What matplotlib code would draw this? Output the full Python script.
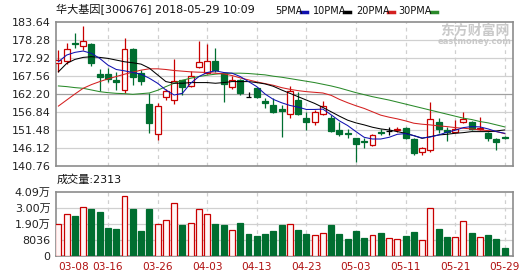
import numpy as np
import matplotlib
matplotlib.use('Agg')
import matplotlib.pyplot as plt

plt.rcParams['font.family'] = ['DejaVu Sans', 'Noto Sans CJK SC']

# trading days shown
dates = ['03-08', '03-09', '03-12', '03-13', '03-14', '03-15', '03-16', '03-19', '03-20', '03-21',
         '03-22', '03-23', '03-26', '03-27', '03-28', '03-29', '03-30', '04-02', '04-03', '04-04',
         '04-09', '04-10', '04-11', '04-12', '04-13', '04-16', '04-17', '04-18', '04-19', '04-20',
         '04-23', '04-24', '04-25', '04-26', '04-27', '05-02', '05-03', '05-04', '05-07', '05-08',
         '05-09', '05-10', '05-11', '05-14', '05-15', '05-16', '05-17', '05-18', '05-21', '05-22',
         '05-23', '05-24', '05-25', '05-28', '05-29']
tick_dates = ['03-08', '03-16', '03-26', '04-03', '04-13', '04-23', '05-03', '05-11', '05-21', '05-29']

# daily candles
opens = [171.3, 172.1, 177.5, 176.5, 177.1, 168.2, 168.2, 166.4, 163.4, 175.5,
         168.5, 159.2, 150.2, 161.2, 160.4, 166.4, 164.6, 170.2, 168.5, 172.0,
         168.4, 164.2, 166.4, 161.4, 164.1, 160.1, 158.9, 157.6, 156.2, 160.4,
         155.0, 154.0, 156.2, 155.1, 151.5, 150.5, 149.2, 148.1, 147.0, 150.9,
         151.2, 151.6, 152.0, 148.8, 144.8, 145.5, 153.8, 151.5, 151.0, 153.8,
         153.8, 151.8, 150.5, 148.8, 149.4]
closes = [172.3, 175.5, 177.0, 178.0, 171.3, 167.2, 166.6, 165.9, 175.5, 167.4,
          166.2, 153.7, 158.7, 163.2, 166.2, 164.4, 167.7, 171.7, 172.0, 169.4,
          165.1, 166.4, 162.4, 161.4, 161.4, 159.4, 156.8, 157.2, 163.1, 156.2,
          154.0, 156.9, 158.6, 151.2, 150.2, 150.2, 147.2, 147.9, 150.0, 150.7,
          151.2, 151.8, 149.0, 144.5, 146.0, 154.75, 151.8, 150.8, 151.8, 154.75,
          151.8, 152.2, 149.0, 148.0, 149.0]
highs = [175.3, 177.3, 180.3, 182.45, 177.5, 169.6, 169.9, 168.8, 179.0, 175.8,
         169.4, 162.6, 159.4, 163.6, 172.5, 166.4, 169.1, 178.1, 177.1, 175.8,
         168.4, 167.6, 166.6, 162.9, 164.4, 160.9, 160.9, 158.9, 164.7, 162.7,
         156.9, 157.4, 160.1, 155.9, 154.0, 151.8, 149.2, 149.2, 150.2, 151.7,
         152.5, 152.5, 152.5, 149.0, 146.5, 159.9, 155.0, 152.5, 154.5, 156.9,
         154.2, 155.4, 151.0, 149.2, 149.8]
lows = [168.8, 171.1, 175.8, 175.3, 170.6, 163.2, 165.9, 163.4, 162.4, 164.9,
        164.9, 150.5, 148.5, 160.4, 159.2, 161.9, 164.4, 169.9, 168.2, 168.8,
        159.9, 163.6, 161.9, 161.4, 161.1, 157.9, 156.5, 149.5, 155.1, 155.9,
        151.5, 153.0, 155.9, 151.0, 149.8, 149.2, 142.0, 146.2, 146.8, 150.0,
        150.0, 150.8, 148.8, 144.0, 144.0, 144.8, 150.5, 148.2, 151.0, 153.5,
        151.5, 151.5, 148.2, 145.5, 148.8]
volumes = [20350, 26700, 25440, 30970, 29890, 27980, 17810, 17170, 38160, 29890,
           15900, 29890, 20350, 22900, 33500, 19900, 20990, 29890, 26700, 20560,
           19900, 16540, 20990, 14200, 12930, 14200, 16100, 19900, 20350, 16540,
           14200, 13360, 14420, 19720, 13990, 10810, 15900, 11450, 13360, 14630,
           11240, 10600, 12720, 15260, 10180, 30330, 17170, 12080, 12080, 22260,
           14630, 12080, 13360, 10810, 5090]

# moving averages as drawn
ma5 = [171.8, 173.8, 174.6, 175.0, 174.3, 172.8, 170.8, 169.5, 169.1, 168.6,
       168.1, 166.9, 165.4, 163.4, 161.9, 162.4, 165.4, 167.4, 168.6, 169.1,
       168.6, 168.4, 167.4, 165.9, 164.4, 162.2, 160.6, 159.6, 158.8, 158.3,
       157.6, 157.6, 157.7, 156.0, 154.2, 152.8, 151.0, 149.3, 148.8, 148.8,
       149.3, 150.2, 150.4, 149.8, 149.1, 149.4, 150.0, 150.8, 151.4, 152.2,
       152.5, 152.4, 151.8, 151.0, 150.5]
ma10 = [168.8, 171.3, 172.5, 173.1, 173.3, 173.1, 172.8, 172.3, 171.8, 171.5,
        171.1, 169.9, 167.9, 165.9, 165.4, 165.4, 165.6, 165.6, 165.6, 165.4,
        165.6, 165.9, 165.9, 165.9, 165.6, 165.2, 164.5, 163.4, 162.4, 161.4,
        160.4, 159.4, 158.2, 156.9, 155.6, 154.4, 153.6, 153.0, 152.3, 151.8,
        151.5, 151.0, 150.5, 149.8, 149.0, 149.5, 150.0, 150.2, 150.5, 150.7,
        151.0, 151.0, 151.0, 151.2, 151.5]
ma20 = [158.6, 160.4, 162.2, 163.9, 165.0, 165.9, 166.7, 167.4, 168.1, 168.7,
        169.3, 169.7, 169.7, 169.5, 169.2, 169.0, 168.8, 168.7, 168.6, 168.4,
        168.2, 167.7, 167.0, 166.4, 165.8, 165.3, 164.8, 164.1, 163.6, 163.2,
        162.9, 162.7, 162.5, 161.8, 160.6, 159.6, 158.7, 157.9, 156.9, 155.9,
        155.3, 154.8, 154.2, 153.5, 153.2, 153.0, 152.7, 152.5, 152.2, 152.0,
        151.8, 151.5, 151.3, 151.0, 150.4]
ma30 = [164.6, 164.4, 164.1, 163.9, 163.4, 162.9, 162.6, 162.4, 162.3, 162.1,
        162.3, 162.5, 163.3, 164.4, 165.4, 166.3, 166.9, 167.4, 167.8, 168.1,
        168.3, 168.4, 168.4, 168.3, 168.1, 167.9, 167.5, 167.2, 166.8, 166.4,
        166.0, 165.6, 165.1, 164.6, 164.0, 163.3, 162.6, 162.0, 161.4, 160.9,
        160.4, 159.8, 159.2, 158.6, 158.0, 157.4, 156.8, 156.2, 155.6, 155.0,
        154.6, 154.0, 153.6, 153.0, 152.4]

price_ticks = [183.64, 178.28, 172.92, 167.56, 162.20, 156.84, 151.48, 146.12, 140.76]
vol_max = 40900
vol_tick_labels = ['0', '8036', '1.90万', '3.00万', '4.09万']

RED = '#c80000'
GREEN = '#006e30'
GRID = '#d0d0d0'
BORDER = '#8c8c8c'

x = np.arange(len(dates))
o = np.array(opens)
c = np.array(closes)
prev = np.concatenate([[o[0]], c[:-1]])
up = (c > o) | ((c == o) & (c >= prev))

fig = plt.figure(figsize=(5.3, 2.76), dpi=100)
ax = fig.add_axes([55.5 / 530, 110 / 276, 457.5 / 530, 144 / 276])
axv = fig.add_axes([55.5 / 530, 20 / 276, 457.5 / 530, 64.3 / 276])

tick_idx = [dates.index(d) for d in tick_dates]

for a in (ax, axv):
    a.set_xlim(-0.35, 55.0)
    for s in a.spines.values():
        s.set_color(BORDER)
        s.set_linewidth(1.2)
    for t in tick_idx[1:]:
        a.axvline(t, color=GRID, lw=0.9, ls=(0, (3, 3)), zorder=0)
    a.tick_params(length=0, labelsize=8, colors='#222222')

# price panel
ax.set_ylim(price_ticks[-1], price_ticks[0])
ax.set_yticks(price_ticks)
ax.set_yticklabels(['%.2f' % v for v in price_ticks])
for v in price_ticks[1:-1]:
    ax.axhline(v, color='#a0a0a0' if v == 162.20 else GRID, lw=0.9, zorder=0)
ax.set_xticks([])

col = []
for i in range(len(x)):
    if opens[i] == closes[i]:
        col.append('black')
    elif closes[i] > opens[i]:
        col.append(RED)
    else:
        col.append(GREEN)
ax.vlines(x, lows, highs, colors=col, lw=0.9, zorder=2)
body_lo = np.minimum(o, c)
body_h = np.abs(c - o)
face = ['white' if cc == RED else cc for cc in col]
ax.bar(x, body_h, bottom=body_lo, width=0.72, color=face, edgecolor=col, lw=0.9, zorder=3)

ax.plot(x, ma30, color='#2a8a2a', lw=0.75, zorder=4)
ax.plot(x, ma20, color='#d42020', lw=0.75, zorder=4)
ax.plot(x, ma10, color='black', lw=0.75, zorder=4)
ax.plot(x, ma5, color='#1010b0', lw=0.75, zorder=4)

# volume panel
vcol = [RED if u else GREEN for u in up]
vface = ['#fff6f6' if u else GREEN for u in up]
axv.bar(x, volumes, width=0.72, color=vface, edgecolor=vcol, lw=0.9, zorder=3)
axv.set_ylim(0, vol_max)
vt = np.linspace(0, vol_max, 5)
axv.set_yticks(vt)
axv.set_yticklabels(vol_tick_labels)
for v in vt[1:-1]:
    axv.axhline(v, color=GRID, lw=0.9, zorder=0)
axv.set_xticks(tick_idx)
axv.set_xticklabels(tick_dates, color='#b01010', fontsize=7.6)
axv.tick_params(axis='x', pad=4)
axv.get_xticklabels()[0].set_horizontalalignment('left')

# titles and legend
fig.text(56 / 530, 1 - 10 / 276, '华大基因[300676] 2018-05-29 10:09', fontsize=8,
         va='center', ha='left', color='#111111')
leg = [('5PMA', '#1010b0', 275, 301), ('10PMA', 'black', 313, 344),
       ('20PMA', '#d42020', 356, 388), ('30PMA', '#2a8a2a', 398, 431)]
for name, cl, px, dx in leg:
    fig.text(px / 530, 1 - 11 / 276, name, fontsize=7, va='center', ha='left', color='#111111')
    fig.add_artist(plt.Line2D([dx / 530, (dx + 6) / 530], [1 - 11.5 / 276] * 2, color=cl, lw=2.5))

fig.text(57 / 530, 1 - 180 / 276, '成交量:2313', fontsize=8, va='center', ha='left', color='#111111')

# watermark
fig.text(475 / 530, 1 - 31 / 276, '东方财富网', fontsize=10, fontweight='bold', color='#c4c4c4',
         ha='center', va='center', alpha=0.9)
fig.text(475 / 530, 1 - 42 / 276, 'eastmoney.com', fontsize=6, fontweight='bold', color='#c4c4c4',
         ha='center', va='center', alpha=0.9)

fig.savefig('out.png', dpi=100)
